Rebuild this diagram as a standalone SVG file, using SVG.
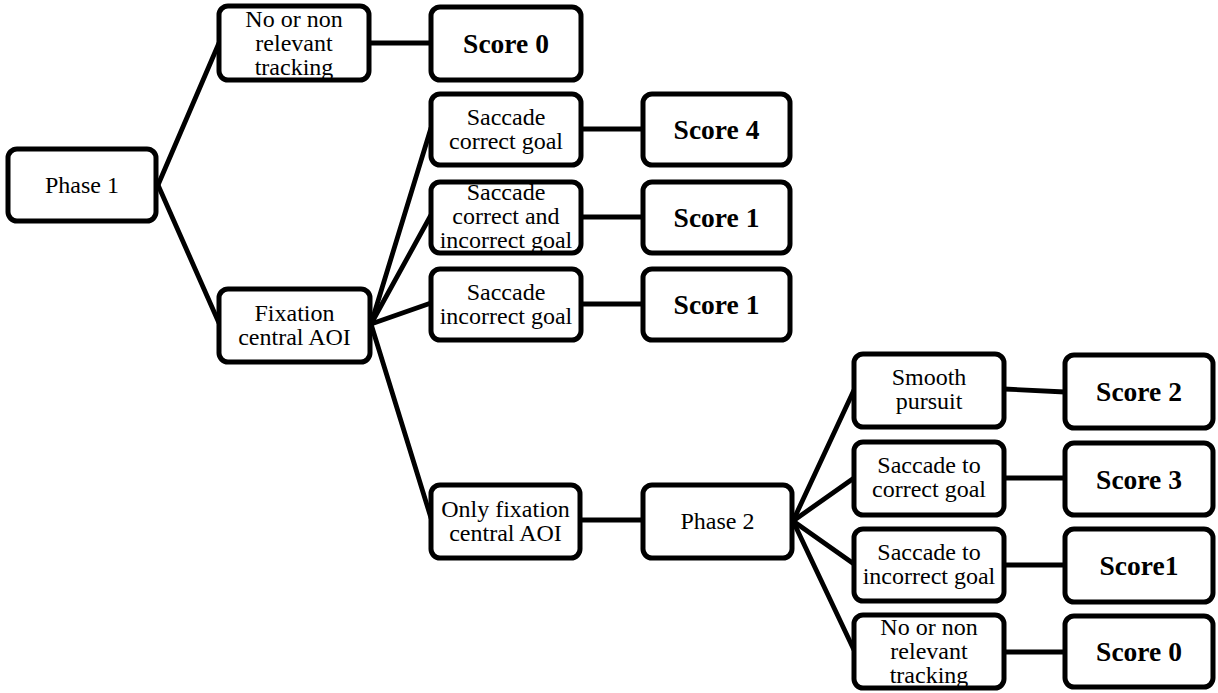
<svg xmlns="http://www.w3.org/2000/svg" width="1218" height="693" viewBox="0 0 1218 693">
<style>
.box{fill:#fff;stroke:#000;stroke-width:5}
.t{font-family:'Liberation Serif','Times New Roman',Times,serif;font-size:24px;fill:#000;text-anchor:middle}
.s{font-family:'Liberation Serif','Times New Roman',Times,serif;font-size:27.5px;font-weight:bold;fill:#000;text-anchor:middle}
.c line{stroke:#000;stroke-width:4.8;stroke-linecap:round}
</style>
<rect width="1218" height="693" fill="#fff"/>
<g id="connectors" class="c">
<line x1="158" y1="185" x2="219" y2="43"/>
<line x1="158" y1="185" x2="219" y2="323"/>
<line x1="370" y1="43" x2="431" y2="43"/>
<line x1="371" y1="324" x2="431" y2="128"/>
<line x1="371" y1="324" x2="431" y2="215"/>
<line x1="371" y1="324" x2="431" y2="303"/>
<line x1="371" y1="324" x2="431" y2="518"/>
<line x1="581" y1="129" x2="643" y2="129"/>
<line x1="581" y1="217" x2="643" y2="217"/>
<line x1="581" y1="304" x2="643" y2="304"/>
<line x1="581" y1="520" x2="643" y2="520"/>
<line x1="793" y1="521" x2="854" y2="390"/>
<line x1="793" y1="521" x2="854" y2="478"/>
<line x1="793" y1="521" x2="854" y2="564"/>
<line x1="793" y1="521" x2="854" y2="650"/>
<line x1="1004" y1="389" x2="1065" y2="392"/>
<line x1="1004" y1="478" x2="1065" y2="478"/>
<line x1="1004" y1="565" x2="1065" y2="565"/>
<line x1="1004" y1="652" x2="1065" y2="652"/>
</g>
<g id="phase1"><rect class="box" x="8" y="149" width="148" height="72" rx="9"/><text class="t" x="82" y="193">Phase 1</text></g>
<g id="nonrel1"><rect class="box" x="219" y="6" width="150" height="74" rx="9"/><text class="t" x="294" y="26.5">No or non</text><text class="t" x="294" y="50.5">relevant</text><text class="t" x="294" y="74.5">tracking</text></g>
<g id="fixation"><rect class="box" x="219" y="289" width="151" height="73" rx="9"/><text class="t" x="294.5" y="320.5">Fixation</text><text class="t" x="294.5" y="344.5">central AOI</text></g>
<g id="score0a"><rect class="box" x="431" y="7" width="150" height="73" rx="9"/><text class="s" x="506" y="53">Score 0</text></g>
<g id="sacCorrect"><rect class="box" x="431" y="94" width="150" height="71" rx="9"/><text class="t" x="506" y="125">Saccade</text><text class="t" x="506" y="149">correct goal</text></g>
<g id="sacBoth"><rect class="box" x="431" y="182" width="150" height="71" rx="9"/><text class="t" x="506" y="200">Saccade</text><text class="t" x="506" y="224">correct and</text><text class="t" x="506" y="248">incorrect goal</text></g>
<g id="sacIncorrect"><rect class="box" x="431" y="269" width="150" height="71" rx="9"/><text class="t" x="506" y="300">Saccade</text><text class="t" x="506" y="324">incorrect goal</text></g>
<g id="onlyFix"><rect class="box" x="431" y="485" width="149" height="73" rx="9"/><text class="t" x="505.5" y="517">Only fixation</text><text class="t" x="505.5" y="541">central AOI</text></g>
<g id="score4"><rect class="box" x="643" y="94" width="147" height="71" rx="9"/><text class="s" x="716.5" y="139">Score 4</text></g>
<g id="score1a"><rect class="box" x="643" y="182" width="147" height="71" rx="9"/><text class="s" x="716.5" y="227">Score 1</text></g>
<g id="score1b"><rect class="box" x="643" y="269" width="147" height="71" rx="9"/><text class="s" x="716.5" y="314">Score 1</text></g>
<g id="phase2"><rect class="box" x="643" y="485" width="149" height="73" rx="9"/><text class="t" x="717.5" y="529">Phase 2</text></g>
<g id="smooth"><rect class="box" x="854" y="354" width="150" height="73" rx="9"/><text class="t" x="929" y="385">Smooth</text><text class="t" x="929" y="409">pursuit</text></g>
<g id="sacToCorrect"><rect class="box" x="854" y="442" width="150" height="73" rx="9"/><text class="t" x="929" y="473">Saccade to</text><text class="t" x="929" y="497">correct goal</text></g>
<g id="sacToIncorrect"><rect class="box" x="854" y="529" width="150" height="72" rx="9"/><text class="t" x="929" y="560">Saccade to</text><text class="t" x="929" y="584">incorrect goal</text></g>
<g id="nonrel2"><rect class="box" x="854" y="615" width="150" height="73" rx="9"/><text class="t" x="929" y="635">No or non</text><text class="t" x="929" y="659">relevant</text><text class="t" x="929" y="683">tracking</text></g>
<g id="score2"><rect class="box" x="1065" y="355" width="148" height="73" rx="9"/><text class="s" x="1139" y="401">Score 2</text></g>
<g id="score3"><rect class="box" x="1065" y="443" width="148" height="72" rx="9"/><text class="s" x="1139" y="488.5">Score 3</text></g>
<g id="score1c"><rect class="box" x="1065" y="529" width="148" height="73" rx="9"/><text class="s" x="1139" y="575">Score1</text></g>
<g id="score0b"><rect class="box" x="1065" y="616" width="148" height="71" rx="9"/><text class="s" x="1139" y="661">Score 0</text></g>
</svg>
